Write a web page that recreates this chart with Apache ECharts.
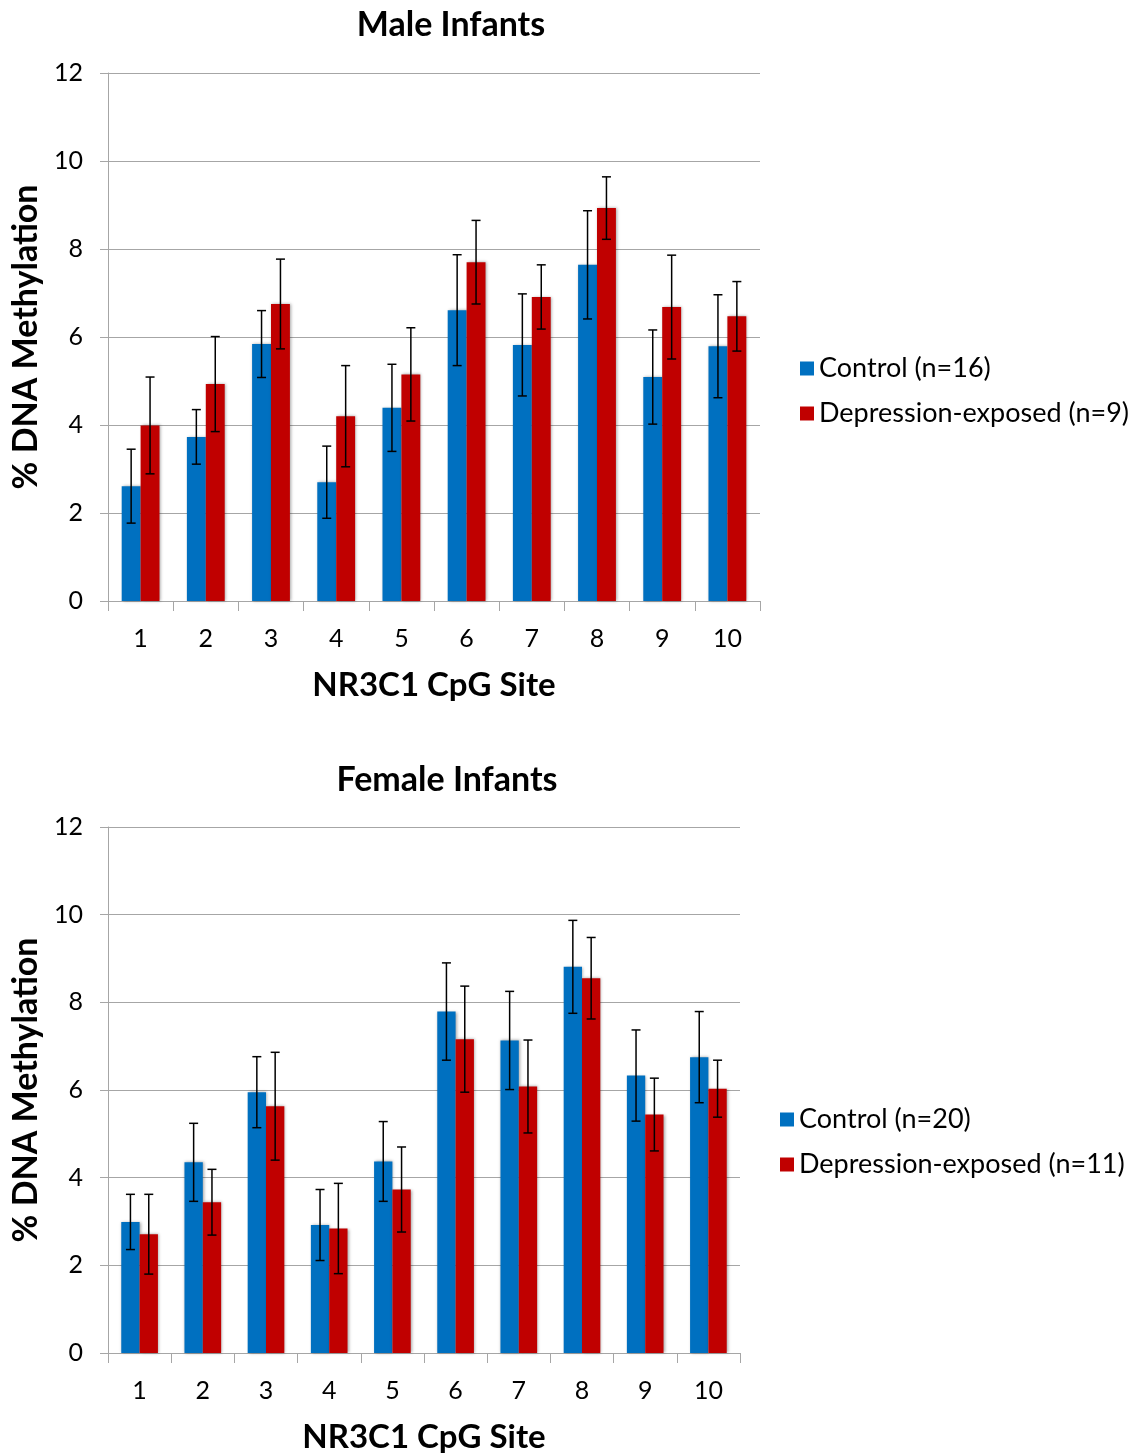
<!DOCTYPE html>
<html>
<head>
<meta charset="utf-8">
<script src="https://cdn.jsdelivr.net/npm/echarts@6/dist/echarts.min.js"></script>
<style>
  html, body { margin: 0; padding: 0; background: #fff; }
  #chart { width: 1136px; height: 1456px; }
</style>
</head>
<body>
<div id="chart"></div>
<script>
// CpG sites along the NR3C1 promoter
const sites = ['1', '2', '3', '4', '5', '6', '7', '8', '9', '10'];
const yTicks = [0, 2, 4, 6, 8, 10, 12];

// Male infants: mean % methylation and standard error
const maleControl = [2.61, 3.73, 5.84, 2.70, 4.39, 6.61, 5.82, 7.64, 5.09, 5.79];
const maleControlErr = [0.84, 0.62, 0.76, 0.82, 0.99, 1.26, 1.16, 1.23, 1.07, 1.17];
const maleDepressed = [3.99, 4.93, 6.75, 4.20, 5.15, 7.70, 6.91, 8.93, 6.68, 6.47];
const maleDepressedErr = [1.10, 1.08, 1.02, 1.15, 1.06, 0.95, 0.73, 0.71, 1.18, 0.79];

// Female infants: mean % methylation and standard error
const femaleControl = [2.99, 4.35, 5.95, 2.92, 4.37, 7.79, 7.13, 8.81, 6.33, 6.75];
const femaleControlErr = [0.63, 0.89, 0.81, 0.81, 0.91, 1.11, 1.12, 1.06, 1.04, 1.04];
const femaleDepressed = [2.71, 3.44, 5.63, 2.84, 3.73, 7.16, 6.08, 8.55, 5.44, 6.03];
const femaleDepressedErr = [0.91, 0.75, 1.23, 1.03, 0.97, 1.21, 1.06, 0.93, 0.83, 0.65];

const maleNames = ['Control (n=16)', 'Depression-exposed (n=9)'];
const femaleNames = ['Control (n=20)', 'Depression-exposed (n=11)'];

const BLUE = '#0070C0';
const RED = '#C00000';
const GRID = '#a6a6a6';
const FONT = 'Lato, "Noto Sans", sans-serif';
const BAR_FRAC = 0.29;

const chart = echarts.init(document.getElementById('chart'));

function xAxis(gridIndex) {
  return {
    type: 'category', gridIndex, data: sites,
    axisLine: { lineStyle: { color: GRID, width: 1 } },
    axisTick: { show: true, length: 10, lineStyle: { color: GRID } },
    axisLabel: { color: '#000', fontSize: 25, fontFamily: FONT, margin: 25 },
    name: 'NR3C1 CpG Site', nameLocation: 'middle', nameGap: 68,
    nameTextStyle: { color: '#000', fontSize: 33, fontWeight: 'bold', fontFamily: FONT }
  };
}

function yAxis(gridIndex) {
  return {
    type: 'value', gridIndex, min: yTicks[0], max: yTicks[yTicks.length - 1], interval: 2,
    axisLine: { show: true, lineStyle: { color: GRID, width: 1 } },
    axisTick: { show: true, length: 8, lineStyle: { color: GRID } },
    splitLine: { show: true, lineStyle: { color: GRID, width: 1 } },
    axisLabel: { color: '#000', fontSize: 25, fontFamily: FONT, margin: 25 },
    name: '% DNA Methylation', nameLocation: 'middle', nameGap: 65,
    nameTextStyle: { color: '#000', fontSize: 34, fontWeight: 'bold', fontFamily: FONT }
  };
}

function barSeries(name, values, color, axisIdx) {
  return {
    name, type: 'bar', xAxisIndex: axisIdx, yAxisIndex: axisIdx,
    data: values, barWidth: (BAR_FRAC * 100) + '%', barGap: '0%',
    itemStyle: { color, shadowColor: 'rgba(0,0,0,0.35)', shadowBlur: 3, shadowOffsetX: 1, shadowOffsetY: 0 },
    emphasis: { disabled: true }
  };
}

// Error bars centred on each bar of the pair (side -1 = left bar, +1 = right bar)
function errorSeries(means, errs, axisIdx, side) {
  return {
    type: 'custom', xAxisIndex: axisIdx, yAxisIndex: axisIdx, z: 10,
    encode: { x: 0, y: [1, 2] },
    data: means.map((m, i) => [i, m - errs[i], m + errs[i]]),
    renderItem: (params, api) => {
      const i = api.value(0);
      const lo = api.coord([i, api.value(1)]);
      const hi = api.coord([i, api.value(2)]);
      const band = api.size([1, 0])[0];
      const x = lo[0] + side * band * BAR_FRAC / 2;
      const cap = 4.5;
      const style = { stroke: '#000', lineWidth: 1.5 };
      return {
        type: 'group',
        children: [
          { type: 'line', shape: { x1: x, y1: hi[1], x2: x, y2: lo[1] }, style },
          { type: 'line', shape: { x1: x - cap, y1: hi[1], x2: x + cap, y2: hi[1] }, style },
          { type: 'line', shape: { x1: x - cap, y1: lo[1], x2: x + cap, y2: lo[1] }, style }
        ]
      };
    }
  };
}

function legend(names, left, top) {
  return {
    data: names, orient: 'vertical', left, top,
    icon: 'rect', itemWidth: 14, itemHeight: 14, itemGap: 18,
    selectedMode: false,
    textStyle: { color: '#000', fontSize: 27, fontFamily: FONT, padding: [0, 0, 0, 0] }
  };
}

chart.setOption({
  animation: false,
  backgroundColor: '#fff',
  title: [
    { text: 'Male Infants', left: 446, top: 3, textAlign: 'center',
      textStyle: { fontSize: 34, fontWeight: 'bold', fontFamily: FONT, color: '#000' } },
    { text: 'Female Infants', left: 442, top: 758, textAlign: 'center',
      textStyle: { fontSize: 34, fontWeight: 'bold', fontFamily: FONT, color: '#000' } }
  ],
  legend: [legend(maleNames, 795, 350), legend(femaleNames, 775, 1101)],
  grid: [
    { left: 108, top: 73, width: 652, height: 528 },
    { left: 108, top: 827, width: 632, height: 526 }
  ],
  xAxis: [xAxis(0), xAxis(1)],
  yAxis: [yAxis(0), yAxis(1)],
  series: [
    barSeries(maleNames[0], maleControl, BLUE, 0),
    barSeries(maleNames[1], maleDepressed, RED, 0),
    errorSeries(maleControl, maleControlErr, 0, -1),
    errorSeries(maleDepressed, maleDepressedErr, 0, 1),
    barSeries(femaleNames[0], femaleControl, BLUE, 1),
    barSeries(femaleNames[1], femaleDepressed, RED, 1),
    errorSeries(femaleControl, femaleControlErr, 1, -1),
    errorSeries(femaleDepressed, femaleDepressedErr, 1, 1)
  ]
});
</script>
</body>
</html>
